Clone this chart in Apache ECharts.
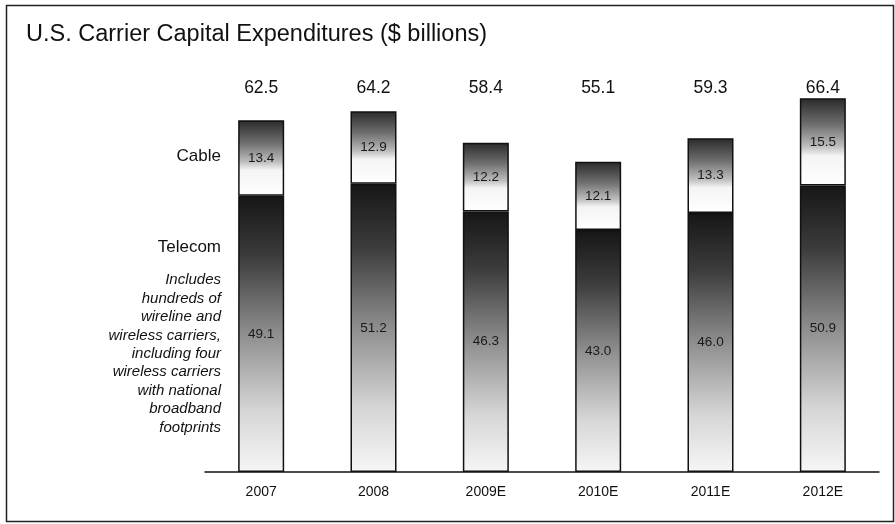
<!DOCTYPE html>
<html>
<head>
<meta charset="utf-8">
<script src="https://cdn.jsdelivr.net/npm/echarts@6/dist/echarts.min.js"></script>
<style>
  html, body { margin: 0; padding: 0; background: #fff; }
  #chart { width: 895px; height: 524px; }
</style>
</head>
<body>
<div id="chart"></div>
<script>
// Years shown on the axis
const years = ['2007', '2008', '2009E', '2010E', '2011E', '2012E'];
// Capex by segment, $ billions
const telecom = [49.1, 51.2, 46.3, 43.0, 46.0, 50.9];
const cable = [13.4, 12.9, 12.2, 12.1, 13.3, 15.5];
// Totals printed above each column
const totals = [62.5, 64.2, 58.4, 55.1, 59.3, 66.4];

const FONT = '"Liberation Sans", Arial, Helvetica, sans-serif';

function shade(stops) {
  return {
    type: 'linear', x: 0, y: 0, x2: 0, y2: 1,
    colorStops: stops.map(([offset, color]) => ({ offset, color }))
  };
}

const telecomFill = shade([[0, '#161616'], [0.22, '#3c3c3c'], [0.5, '#8e8e8e'], [0.78, '#d6d6d6'], [1, '#f6f6f6']]);
const cableFill = shade([[0, '#2a2a2a'], [0.3, '#6e6e6e'], [0.55, '#bdbdbd'], [0.66, '#f4f4f4'], [1, '#ffffff']]);

const inBarLabel = {
  show: true,
  position: 'inside',
  color: '#1a1a1a',
  fontFamily: FONT,
  fontSize: 13.5,
  formatter: p => p.value.toFixed(1)
};

const chart = echarts.init(document.getElementById('chart'), null, { renderer: 'canvas' });

chart.setOption({
  backgroundColor: '#ffffff',
  animation: false,
  title: {
    text: 'U.S. Carrier Capital Expenditures ($ billions)',
    left: 21, top: 18,
    textStyle: { fontFamily: FONT, fontSize: 23.5, fontWeight: 'normal', color: '#111' }
  },
  grid: { left: 205, right: 16, top: 78, bottom: 52 },
  xAxis: [
    {
      type: 'category',
      data: years,
      axisLine: { lineStyle: { color: '#111', width: 1.5 } },
      axisTick: { show: false },
      axisLabel: { color: '#111', fontFamily: FONT, fontSize: 14, margin: 13 }
    },
    {
      type: 'category',
      position: 'top',
      data: totals.map(v => v.toFixed(1)),
      offset: -19,
      axisLine: { show: false },
      axisTick: { show: false },
      axisLabel: { color: '#111', fontFamily: FONT, fontSize: 17.5, margin: 0 }
    }
  ],
  yAxis: { type: 'value', min: 0, max: 70, show: false },
  series: [
    {
      name: 'Telecom',
      type: 'bar',
      stack: 'capex',
      barWidth: 46,
      data: telecom,
      itemStyle: { color: telecomFill, borderColor: '#111', borderWidth: 1.5 },
      label: inBarLabel
    },
    {
      name: 'Cable',
      type: 'bar',
      stack: 'capex',
      barWidth: 46,
      data: cable,
      itemStyle: { color: cableFill, borderColor: '#111', borderWidth: 1.5 },
      label: inBarLabel
    }
  ],
  graphic: [
    {
      type: 'rect',
      shape: { x: 6.5, y: 5.5, width: 887, height: 516 },
      style: { fill: 'none', stroke: '#222', lineWidth: 1.5 },
      silent: true
    },
    {
      type: 'text', right: 895 - 221, top: 148,
      style: { text: 'Cable', font: '17px ' + FONT, fill: '#111', textAlign: 'right' }
    },
    {
      type: 'text', right: 895 - 221, top: 239,
      style: { text: 'Telecom', font: '17px ' + FONT, fill: '#111', textAlign: 'right' }
    },
    {
      type: 'text', right: 895 - 221, top: 271,
      style: {
        text: 'Includes\nhundreds of\nwireline and\nwireless carriers,\nincluding four\nwireless carriers\nwith national\nbroadband\nfootprints',
        font: 'italic 15px ' + FONT, fill: '#111', textAlign: 'right', lineHeight: 18.4
      }
    }
  ]
});
</script>
</body>
</html>
